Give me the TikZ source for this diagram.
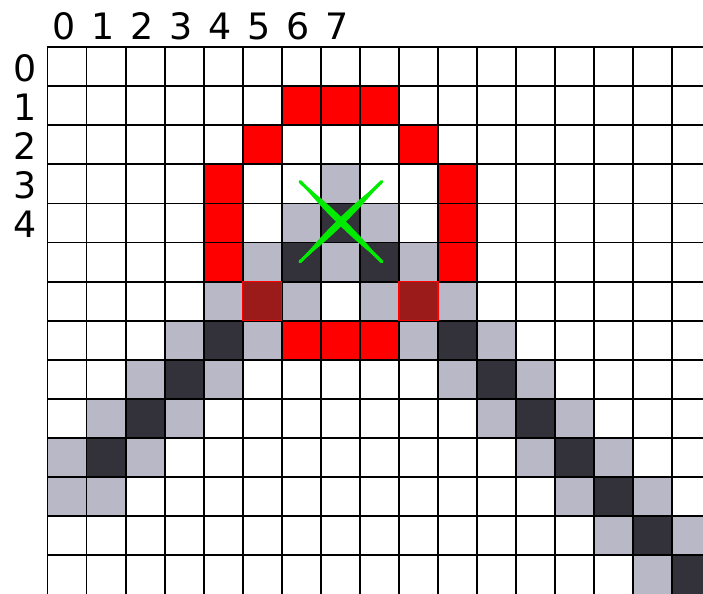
\documentclass[tikz,border=0pt]{standalone}
\usepackage{fontspec}
\setmainfont{DejaVu Sans}
\usepackage{tikz}
\usetikzlibrary{calc}
\definecolor{cellred}{RGB}{255,0,0}
\definecolor{darkred}{RGB}{155,27,27}
\definecolor{pathgray}{RGB}{185,184,198}
\definecolor{pathdark}{RGB}{51,50,59}
\definecolor{markgreen}{RGB}{0,235,0}
\tikzset{
  gridline/.style={black,line width=1.4pt,line cap=rect},
  digit/.style={inner sep=0pt,font=\fontsize{26.5pt}{30pt}\selectfont}
}
% tapered brush stroke from #1 to #2, #3 is the side offset
\newcommand{\taperstroke}[3]{
  \draw[markgreen,line width=2.4pt,line cap=round] (#1) -- (#2);
  \fill[markgreen] (#1) .. controls ($(#1)!0.3!(#2)+(#3)$) and ($(#1)!0.7!(#2)+(#3)$) .. (#2)
    .. controls ($(#1)!0.7!(#2)-(#3)$) and ($(#1)!0.3!(#2)-(#3)$) .. (#1) -- cycle;
}

\begin{document}
\begin{tikzpicture}[x=1cm,y=-1cm]
\useasboundingbox (-1.216,-1.211) rectangle (16.787,13.975);
% circle of red cells
\foreach \c/\r in {6/1,7/1,8/1,5/2,9/2,4/3,10/3,4/4,10/4,4/5,10/5,6/7,7/7,8/7}
  \fill[cellred] (\c,\r) rectangle ++(1,1);
% the line, light border
\foreach \c/\r in {7/3,6/4,8/4,5/5,7/5,9/5,4/6,6/6,8/6,10/6,3/7,5/7,9/7,11/7,
    2/8,4/8,10/8,12/8,1/9,3/9,11/9,13/9,0/10,2/10,12/10,14/10,0/11,1/11,13/11,15/11,
    14/12,16/12,15/13}
  \fill[pathgray] (\c,\r) rectangle ++(1,1);
% the line, dark core
\foreach \c/\r in {7/4,6/5,8/5,4/7,10/7,3/8,11/8,2/9,12/9,1/10,13/10,14/11,15/12,16/13}
  \fill[pathdark] (\c,\r) rectangle ++(1,1);
% grid
\foreach \c in {0,...,16}
  \draw[gridline] (\c,0) -- (\c,13.975);
\foreach \r in {0,...,13}
  \draw[gridline] (0,\r) -- (16.787,\r);
% hits
\foreach \c/\r in {5/6,9/6}
  \draw[cellred,fill=darkred,line width=1pt] (\c,\r) rectangle ++(1,1);
% labels
\foreach \c in {0,...,7}
  \node[digit,anchor=base] (top\c) at (\c+0.42,-0.21) {\c};
\foreach \r in {0,...,4}
  \node[digit] (left\r) at (-0.58,\r+0.53) {\r};
% centre mark
\coordinate (crossnw) at (6.47,3.44);
\coordinate (crossse) at (8.56,5.49);
\coordinate (crossne) at (8.56,3.44);
\coordinate (crosssw) at (6.47,5.49);
\taperstroke{crossnw}{crossse}{0.085,-0.085}
\taperstroke{crossne}{crosssw}{0.085,0.085}
\end{tikzpicture}
\end{document}
